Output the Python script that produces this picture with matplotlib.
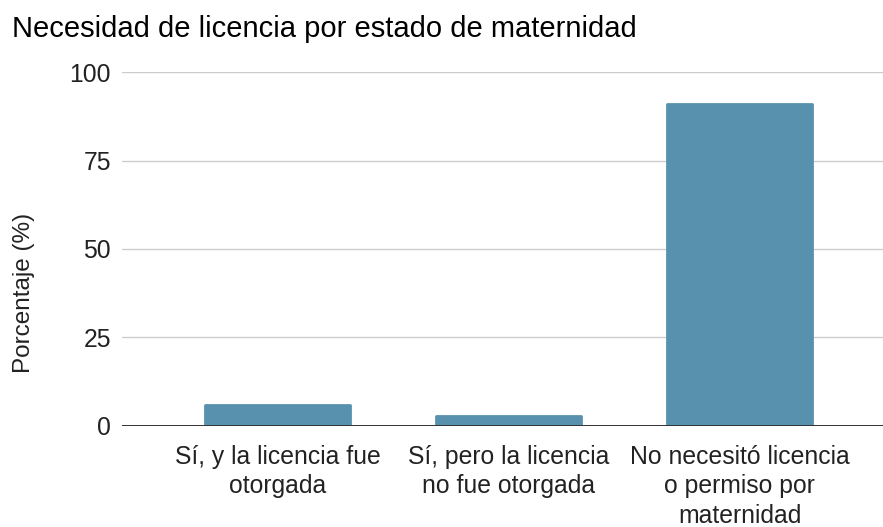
import numpy as np
import matplotlib.pyplot as plt

plt.rcParams['font.family'] = ['Liberation Sans', 'DejaVu Sans']

categorias = ["Sí, y la licencia fue\notorgada",
              "Sí, pero la licencia\nno fue otorgada",
              "No necesitó licencia\no permiso por\nmaternidad"]
porcentajes = [5.7, 2.7, 91.0]
yticks = [0, 25, 50, 75, 100]

W, H = 883, 527
fig = plt.figure(figsize=(W / 100, H / 100), dpi=100)
ax = fig.add_axes([122 / W, 1 - 425.5 / H, 1 - 122 / W, (425.5 - 72.3) / H])

x = np.arange(len(categorias))
ax.bar(x, porcentajes, width=0.63, color='#5891ad', edgecolor='#5891ad',
       linewidth=2, joinstyle='round', zorder=2)

ax.set_xlim(-0.673, 2.621)
ax.set_ylim(0, 100)
ax.set_yticks(yticks)
ax.set_xticks(x)
ax.set_xticklabels(categorias, linespacing=1.28)
ax.tick_params(axis='both', length=0, labelsize=17.8, colors='#222222')
ax.tick_params(axis='y', pad=8)
ax.tick_params(axis='x', pad=14)

ax.grid(axis='y', color='#cccccc', linewidth=1, zorder=0)
for s in ax.spines.values():
    s.set_visible(False)
ax.axhline(0, color='#333333', linewidth=1.4, zorder=3)

fig.text(24 / W, 1 - 293 / H, 'Porcentaje (%)', rotation=90, ha='center',
         va='center', fontsize=17.5, color='#222222')
fig.text(12 / W, 1 - 37 / H, 'Necesidad de licencia por estado de maternidad',
         ha='left', va='baseline', fontsize=21, color='#000000')

fig.savefig('out.png', dpi=100)
